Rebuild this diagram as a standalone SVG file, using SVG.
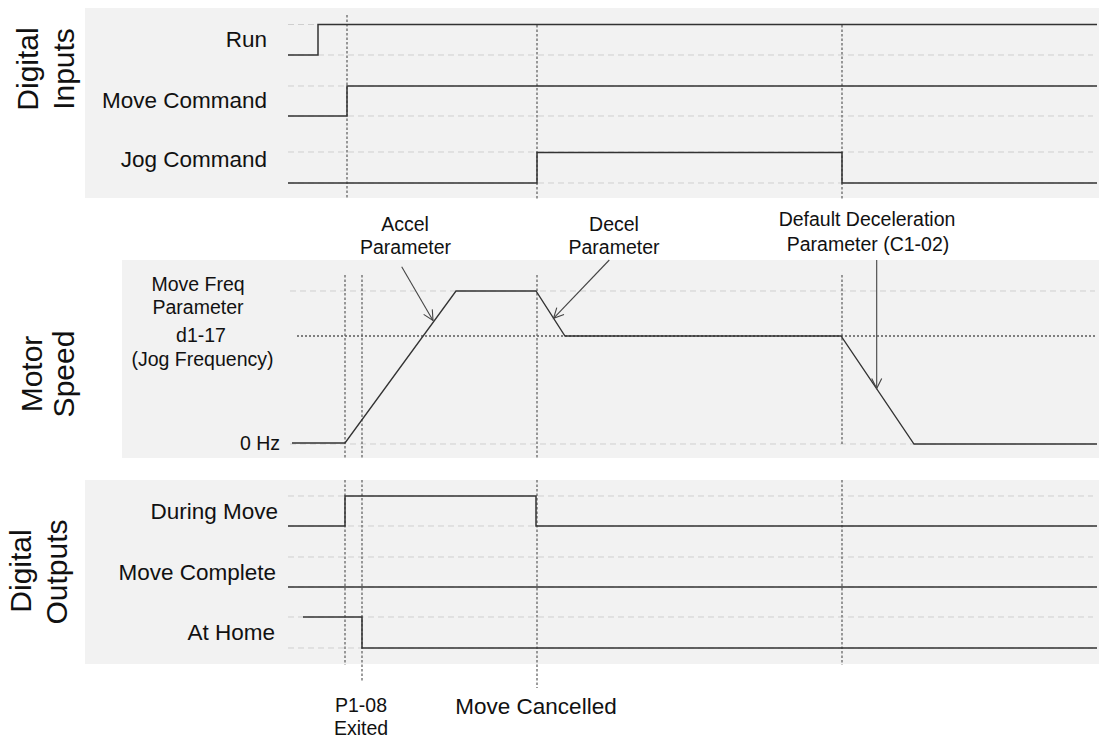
<svg xmlns="http://www.w3.org/2000/svg" width="1100" height="741" viewBox="0 0 1100 741">
<style>
text{font-family:"Liberation Sans",Arial,sans-serif;fill:#111}
.panel{fill:#f2f2f2}
.grid{stroke:#cfcfcf;stroke-width:1;stroke-dasharray:6 4;fill:none}
.vdot{stroke:#5a5a5a;stroke-width:1.2;stroke-dasharray:2.5 2;fill:none}
.hdot{stroke:#5a5a5a;stroke-width:1.5;stroke-dasharray:2 2;fill:none}
.sig{stroke:#333;stroke-width:1.5;fill:none}
.axis{font-size:30px}
.lbl{font-size:22.5px}
.ann{font-size:19.5px}
.conn{stroke:#444;stroke-width:1.1;fill:none}
</style>
<defs>
<marker id="arr" markerUnits="userSpaceOnUse" markerWidth="14" markerHeight="14" refX="11" refY="6" orient="auto">
<path d="M1,1 L11,6 L1,11" fill="none" stroke="#444" stroke-width="1.1"/>
</marker>
</defs>

<g id="digital-inputs">
<rect class="panel" x="85" y="8" width="1014" height="190"/>
<g class="grid">
<line x1="288" y1="24.5" x2="1093" y2="24.5"/>
<line x1="288" y1="55" x2="1093" y2="55"/>
<line x1="288" y1="86" x2="1093" y2="86"/>
<line x1="288" y1="116" x2="1093" y2="116"/>
<line x1="288" y1="152" x2="1093" y2="152"/>
<line x1="288" y1="183" x2="1093" y2="183"/>
</g>
<g class="vdot">
<line x1="347" y1="15" x2="347" y2="198"/>
<line x1="537" y1="25" x2="537" y2="200"/>
<line x1="842" y1="25" x2="842" y2="200"/>
</g>
<text class="axis" transform="translate(38,69) rotate(-90)" text-anchor="middle">Digital</text>
<text class="axis" transform="translate(74,69) rotate(-90)" text-anchor="middle">Inputs</text>
<text class="lbl" x="267" y="47" text-anchor="end">Run</text>
<text class="lbl" x="267" y="107.5" text-anchor="end">Move Command</text>
<text class="lbl" x="267" y="167" text-anchor="end">Jog Command</text>
<polyline class="sig" points="288,55 318,55 318,24.5 1097,24.5"/>
<polyline class="sig" points="288,116 347,116 347,86 1097,86"/>
<polyline class="sig" points="288,183 537,183 537,152.5 842,152.5 842,183 1097,183"/>
</g>

<g id="motor-speed">
<rect class="panel" x="122" y="260" width="977" height="198"/>
<g class="grid">
<line x1="290" y1="291" x2="1095" y2="291"/>
<line x1="290" y1="444" x2="1095" y2="444"/>
</g>
<line class="hdot" x1="297" y1="336" x2="1097" y2="336"/>
<g class="vdot">
<line x1="345" y1="275" x2="345" y2="458"/>
<line x1="362" y1="275" x2="362" y2="458"/>
<line x1="537" y1="275" x2="537" y2="458"/>
<line x1="842" y1="275" x2="842" y2="445"/>
</g>
<text class="axis" transform="translate(42,374) rotate(-90)" text-anchor="middle">Motor</text>
<text class="axis" transform="translate(74,374) rotate(-90)" text-anchor="middle">Speed</text>
<text class="ann" x="198" y="291" text-anchor="middle">Move Freq</text>
<text class="ann" x="198" y="314" text-anchor="middle">Parameter</text>
<text class="ann" x="201" y="342" text-anchor="middle">d1-17</text>
<text class="ann" x="202.5" y="366" text-anchor="middle">(Jog Frequency)</text>
<text class="ann" x="280" y="450" text-anchor="end">0 Hz</text>
<text class="ann" x="405" y="231" text-anchor="middle">Accel</text>
<text class="ann" x="405.5" y="254" text-anchor="middle">Parameter</text>
<text class="ann" x="614" y="231" text-anchor="middle">Decel</text>
<text class="ann" x="614" y="254" text-anchor="middle">Parameter</text>
<text class="ann" x="867" y="226" text-anchor="middle">Default Deceleration</text>
<text class="ann" x="868" y="250.5" text-anchor="middle">Parameter (C1-02)</text>
<polyline class="sig" style="stroke-width:1.3" points="292,443 345,443 456,291 536,291 565,336 841,336 914,444 1097,444"/>
</g>

<g id="digital-outputs">
<rect class="panel" x="85" y="480" width="1014" height="184"/>
<g class="grid">
<line x1="288" y1="496" x2="1093" y2="496"/>
<line x1="288" y1="526" x2="1093" y2="526"/>
<line x1="288" y1="557" x2="1093" y2="557"/>
<line x1="288" y1="587" x2="1093" y2="587"/>
<line x1="288" y1="617" x2="1093" y2="617"/>
<line x1="288" y1="648" x2="1093" y2="648"/>
</g>
<g class="vdot">
<line x1="345" y1="480" x2="345" y2="665"/>
<line x1="362" y1="480" x2="362" y2="682"/>
<line x1="537" y1="480" x2="537" y2="688"/>
<line x1="842" y1="480" x2="842" y2="665"/>
</g>
<text class="axis" transform="translate(31,571) rotate(-90)" text-anchor="middle">Digital</text>
<text class="axis" transform="translate(67,572) rotate(-90)" text-anchor="middle">Outputs</text>
<text class="lbl" x="278" y="518.5" text-anchor="end">During Move</text>
<text class="lbl" x="276" y="579.5" text-anchor="end">Move Complete</text>
<text class="lbl" x="275" y="639.5" text-anchor="end">At Home</text>
<polyline class="sig" points="288,526 345,526 345,496 536,496 536,526 1097,526"/>
<polyline class="sig" points="288,587 1097,587"/>
<polyline class="sig" points="303,617 362,617 362,648 1097,648"/>
</g>

<g id="events">
<text class="ann" x="361" y="712" text-anchor="middle">P1-08</text>
<text class="ann" x="361" y="735" text-anchor="middle">Exited</text>
<text class="lbl" x="536" y="714" text-anchor="middle">Move Cancelled</text>
</g>

<g id="connectors">
<line class="conn" x1="401.7" y1="266.7" x2="433" y2="320.5" marker-end="url(#arr)"/>
<line class="conn" x1="609.3" y1="260" x2="553.5" y2="318.3" marker-end="url(#arr)"/>
<line class="conn" x1="876.7" y1="260" x2="876.7" y2="388.5" marker-end="url(#arr)"/>
</g>
</svg>
